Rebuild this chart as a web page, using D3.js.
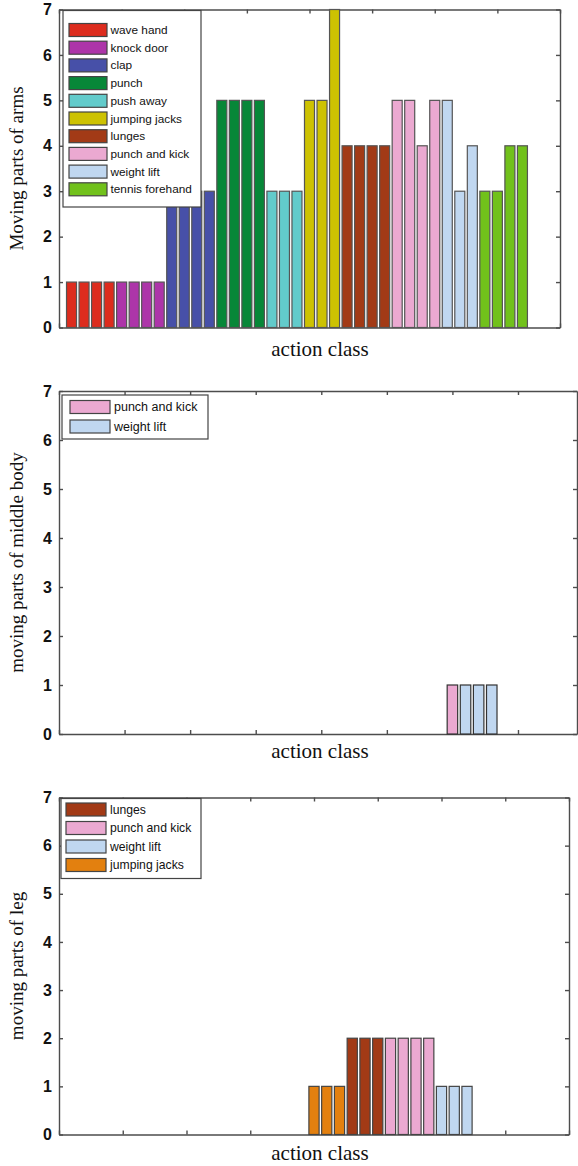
<!DOCTYPE html>
<html>
<head>
<meta charset="utf-8">
<script src="https://cdnjs.cloudflare.com/ajax/libs/d3/7.8.5/d3.min.js"></script>
<style>
body{margin:0;background:#fff;}
svg{display:block;}
</style>
</head>
<body>
<svg width="578" height="1166"></svg>
<script>
// values
var yTicks = [0,1,2,3,4,5,6,7];
var xTicks = [0,5,10,15,20,25,30,35,40];

var armClasses = ['wave hand','knock door','clap','punch','push away','jumping jacks','lunges','punch and kick','weight lift','tennis forehand'];
var armColors = ['#dd2c1e','#ad35a9','#4750a8','#078738','#62cbcb','#cdc202','#a23a16','#eba9d1','#c0d7f0','#71c11b'];
var armValues = [[1,1,1,1],[1,1,1,1],[3,3,3,3],[5,5,5,5],[3,3,3],[5,5,7],[4,4,4,4],[5,5,4,5],[5,3,4],[3,3,4,4]];
var armStart = 1;

var midClasses = ['punch and kick','weight lift'];
var midColors = ['#eba9d1','#c0d7f0'];
var midValues = [[1],[1,1,1]];
var midStart = 30;

var legClasses = ['jumping jacks','lunges','punch and kick','weight lift'];
var legColors = ['#e3800f','#a23a16','#eba9d1','#c0d7f0'];
var legValues = [[1,1,1],[2,2,2],[2,2,2,2],[1,1,1]];
var legStart = 20;
var legLegend = ['lunges','punch and kick','weight lift','jumping jacks'];

var svg = d3.select('svg');

function drawPanel(p){
	var x = d3.scaleLinear().domain([0,p.xMax]).range([p.left,p.right]);
	var y = d3.scaleLinear().domain([0,7]).range([p.bottom,p.top]);
	var g = svg.append('g');

	var axes = g.append('g').attr('class','axes');
	var ax = axes.append('g').attr('transform',`translate(${p.left},0)`)
		.call(d3.axisLeft(y).tickValues(yTicks).tickFormat(d3.format('d')).tickSizeInner(-4).tickSizeOuter(0).tickPadding(7));
	axes.append('g').attr('transform',`translate(${p.right},0)`)
		.call(d3.axisRight(y).tickValues(yTicks).tickFormat('').tickSizeInner(-4).tickSizeOuter(0));
	axes.append('g').attr('transform',`translate(0,${p.top})`)
		.call(d3.axisTop(x).tickValues(xTicks.filter(d => d <= p.xMax)).tickFormat('').tickSizeInner(-4).tickSizeOuter(0));
	axes.append('g').attr('transform',`translate(0,${p.bottom})`)
		.call(d3.axisBottom(x).tickValues(xTicks.filter(d => d <= p.xMax)).tickFormat('').tickSizeInner(-4).tickSizeOuter(0));
	axes.selectAll('path,line').attr('stroke','#4d4d4d').attr('stroke-width',1.4);
	ax.selectAll('text').attr('font-family','Liberation Sans, Arial, sans-serif')
		.attr('font-weight','bold').attr('font-size',16).attr('fill','#111');

	// bars
	var bars = [];
	var pos = p.start;
	p.values.forEach((vals,i) => {
		vals.forEach(v => { bars.push({x:pos, v:v, c:p.colors[i]}); pos++; });
	});
	g.append('g').selectAll('rect').data(bars).enter().append('rect')
		.attr('x',d => x(d.x-0.4))
		.attr('y',d => y(d.v))
		.attr('width',d => x(d.x+0.4)-x(d.x-0.4))
		.attr('height',d => y(0)-y(d.v))
		.attr('fill',d => d.c)
		.attr('stroke',p.barStroke).attr('stroke-width',1.2);

	// legend
	var L = p.legend;
	var lg = g.append('g');
	lg.append('rect').attr('x',L.x).attr('y',L.y).attr('width',L.w).attr('height',L.h)
		.attr('fill','#fff').attr('stroke','#444').attr('stroke-width',1.2);
	L.items.forEach((name,i) => {
		var cy = L.first + i*L.step;
		var col = p.colors[p.classes.indexOf(name)];
		lg.append('rect').attr('x',L.sx).attr('y',cy-6.5).attr('width',L.sw).attr('height',13)
			.attr('fill',col).attr('stroke','#444').attr('stroke-width',1.2);
		lg.append('text').attr('x',L.tx).attr('y',cy+4).text(name)
			.attr('font-family','Liberation Sans, Arial, sans-serif').attr('font-size',L.fs).attr('fill','#111');
	});

	// axis titles
	g.append('text').attr('transform',`translate(23,${(p.top+p.bottom)/2}) rotate(-90)`)
		.attr('text-anchor','middle').attr('font-family','Liberation Serif, Times New Roman, serif')
		.attr('font-size',19).attr('fill','#111').text(p.ylabel);
	g.append('text').attr('x',320).attr('y',p.xlabelY)
		.attr('text-anchor','middle').attr('font-family','Liberation Serif, Times New Roman, serif')
		.attr('font-size',21).attr('fill','#111').text('action class');
}

drawPanel({left:59,right:560,top:9.5,bottom:327.5,xMax:40,
	classes:armClasses,colors:armColors,values:armValues,start:armStart,barStroke:'#555',
	ylabel:'Moving parts of arms',xlabelY:356,
	legend:{x:63,y:10.5,w:138,h:196.5,first:30,step:17.7,sx:69,sw:38,tx:110.5,fs:11.8,items:armClasses}});

drawPanel({left:59,right:577,top:391,bottom:734,xMax:39.5,
	classes:midClasses,colors:midColors,values:midValues,start:midStart,barStroke:'#333',
	ylabel:'moving parts of middle body',xlabelY:758,
	legend:{x:62,y:395,w:146,h:44,first:407,step:19.5,sx:70,sw:40,tx:114,fs:12.5,items:midClasses}});

drawPanel({left:59,right:569,top:797.5,bottom:1134.5,xMax:40,
	classes:legClasses,colors:legColors,values:legValues,start:legStart,barStroke:'#444',
	ylabel:'moving parts of leg',xlabelY:1160,
	legend:{x:61,y:798.5,w:140,h:80,first:809.5,step:18.5,sx:66,sw:40,tx:110,fs:12.2,items:legLegend}});
</script>
</body>
</html>
